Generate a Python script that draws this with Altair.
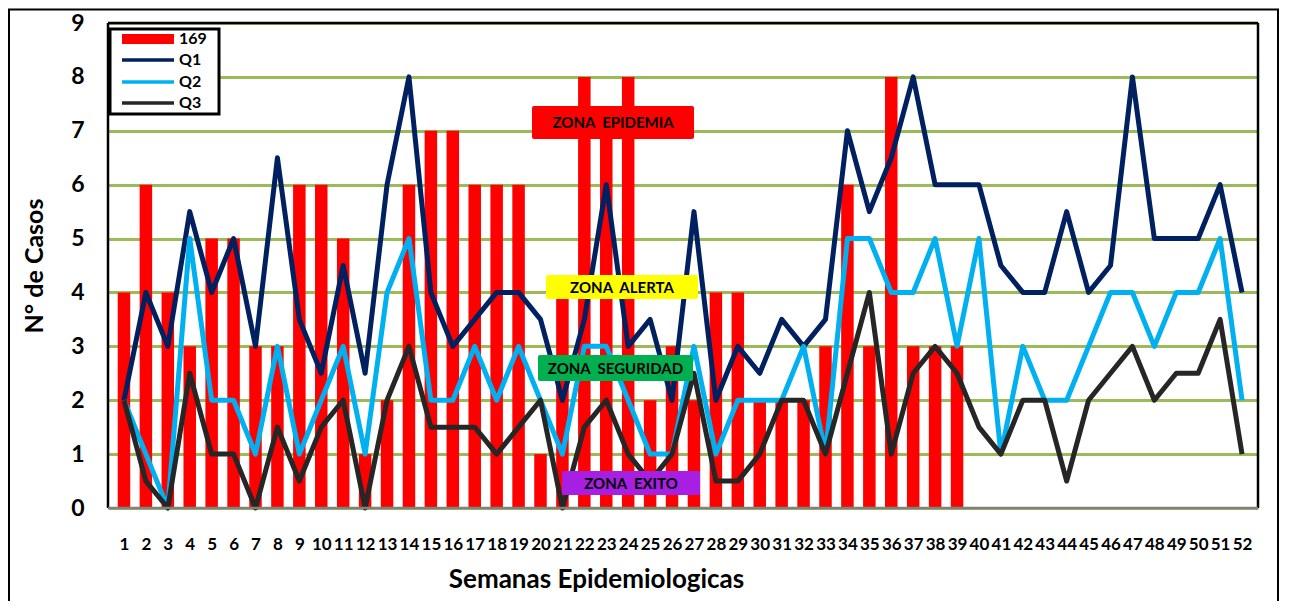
import altair as alt
import pandas as pd

# ---------------- data ----------------
weeks = list(range(1, 53))
casos_169 = [4, 6, 4, 3, 5, 5, 3, 3, 6, 6,
             5, 1, 2, 6, 7, 7, 6, 6, 6, 1,
             4, 8, 7, 8, 2, 3, 2, 4, 4, 2,
             2, 2, 3, 6, 3, 8, 3, 3, 3]
q1 = [2, 4, 3, 5.5, 4, 5, 3, 6.5, 3.5, 2.5,
      4.5, 2.5, 6, 8, 4, 3, 3.5, 4, 4, 3.5,
      2, 3.5, 6, 3, 3.5, 2, 5.5, 2, 3, 2.5,
      3.5, 3, 3.5, 7, 5.5, 6.5, 8, 6, 6, 6,
      4.5, 4, 4, 5.5, 4, 4.5, 8, 5, 5, 5,
      6, 4]
q2 = [2, 1, 0, 5, 2, 2, 1, 3, 1, 2,
      3, 1, 4, 5, 2, 2, 3, 2, 3, 2,
      1, 3, 3, 2, 1, 1, 3, 1, 2, 2,
      2, 3, 1, 5, 5, 4, 4, 5, 3, 5,
      1, 3, 2, 2, 3, 4, 4, 3, 4, 4,
      5, 2]
q3 = [2, 0.5, 0, 2.5, 1, 1, 0, 1.5, 0.5, 1.5,
      2, 0, 2, 3, 1.5, 1.5, 1.5, 1, 1.5, 2,
      0, 1.5, 2, 1, 0.5, 1, 2.5, 0.5, 0.5, 1,
      2, 2, 1, 2.5, 4, 1, 2.5, 3, 2.5, 1.5,
      1, 2, 2, 0.5, 2, 2.5, 3, 2, 2.5, 2.5,
      3.5, 1]
series_names = ["169", "Q1", "Q2", "Q3"]
series_colors = ["#ff0000", "#002060", "#00b0f0", "#262626"]
zone_labels = ["ZONA\u00a0\u00a0EPIDEMIA", "ZONA\u00a0\u00a0ALERTA",
               "ZONA\u00a0\u00a0SEGURIDAD", "ZONA\u00a0\u00a0EXITO"]
zone_colors = ["#ff0000", "#ffff00", "#00b050", "#a61fe3"]
y_ticks = list(range(0, 10))
x_title = "Semanas Epidemiologicas"
y_title = "N° de Casos"

# ---------------- chart ----------------
FONT = "Lato"
W, H = 1150, 485

bars_df = pd.DataFrame({"semana": weeks[:len(casos_169)], "casos": casos_169})
one = pd.DataFrame({"k": [0]})

x_axis = alt.Axis(values=weeks, title=x_title, format="d",
                  labelFont=FONT, labelFontSize=17, labelFontWeight="bold",
                  labelColor="black", labelPadding=28, labelOverlap=False,
                  labelFlush=False, labelBound=False, ticks=False,
                  domain=False, grid=False,
                  titleFont=FONT, titleFontSize=26, titleFontWeight="bold",
                  titleColor="black", titleX=488, titleY=71,
                  titleBaseline="middle", titleAlign="center")
y_axis = alt.Axis(values=y_ticks, title=y_title, format="d",
                  labelFont=FONT, labelFontSize=23, labelFontWeight="bold",
                  labelColor="black", labelPadding=24, ticks=False,
                  labelOverlap=False, domain=False, grid=True,
                  gridColor="#9bbb59", gridWidth=3,
                  titleFont=FONT, titleFontSize=25, titleFontWeight="bold",
                  titleColor="black", titleX=-74, titleY=242.5, titleAngle=270,
                  titleBaseline="middle", titleAlign="center")
x_scale = alt.Scale(domain=[0.5, 52.5], nice=False, zero=False)
y_scale = alt.Scale(domain=[0, 9], nice=False)


def xe():
    return alt.X("semana:Q", scale=x_scale, axis=x_axis)


def ye():
    return alt.Y("casos:Q", scale=y_scale, axis=y_axis)


bars = alt.Chart(bars_df).mark_bar(size=12.5, color=series_colors[0]).encode(
    x=xe(), y=ye())


def line_layer(vals, color):
    df = pd.DataFrame({"semana": weeks, "casos": vals})
    return alt.Chart(df).mark_line(color=color, strokeWidth=5,
                                   strokeJoin="round").encode(x=xe(), y=ye())


lines = [line_layer(v, c) for v, c in zip([q1, q2, q3], series_colors[1:])]


def rect_px(x, x2, y, y2, **kw):
    return alt.Chart(one).mark_rect(**kw).encode(
        x=alt.value(x), x2=alt.value(x2), y=alt.value(y), y2=alt.value(y2))


def rule_px(x, x2, y, y2, color, width):
    return alt.Chart(one).mark_rule(color=color, strokeWidth=width).encode(
        x=alt.value(x), x2=alt.value(x2), y=alt.value(y), y2=alt.value(y2))


def text_px(x, y, t, size, align="center"):
    return alt.Chart(one).mark_text(
        text=t, font=FONT, fontSize=size, fontWeight="bold", color="black",
        align=align, baseline="middle").encode(x=alt.value(x), y=alt.value(y))


# zone annotation boxes
zone_boxes = [(424, 586, 83, 116), (438, 590, 252, 276),
              (430, 585, 332, 358), (454, 592, 448, 472)]
zones = []
for (bx, bx2, by, by2), lab, col in zip(zone_boxes, zone_labels, zone_colors):
    zones.append(rect_px(bx, bx2, by, by2, color=col, cornerRadius=2))
    zones.append(text_px((bx + bx2) / 2, (by + by2) / 2 + 0.5, lab, 15))

# frame of plot area
frame = [
    rule_px(0, W, 0, 0, "black", 2.5),
    rule_px(W, W, 0, H, "black", 2.5),
    rule_px(0, 0, 0, H, "black", 2.5),
    rule_px(0, W, H, H, "#808080", 2.5),
]

# legend
legend = [rect_px(2, 111, 6, 91, fill="white", stroke="black", strokeWidth=3)]
rows_y = [16, 37, 59, 80]
legend.append(rect_px(14, 66, 11, 21, color=series_colors[0]))
for yy, col in zip(rows_y[1:], series_colors[1:]):
    legend.append(rule_px(14, 66, yy, yy, col, 3.5))
for yy, name in zip(rows_y, series_names):
    legend.append(text_px(71, yy, name, 16, align="left"))

# outer chart border
outer = rect_px(-99, 1170, -13.5, 700, fillOpacity=0, stroke="black",
                strokeWidth=2)

chart = alt.layer(bars, *lines, *zones, *frame, *legend, outer).properties(
    width=W, height=H,
    autosize=alt.AutoSizeParams(type="none"),
    padding={"left": 100, "top": 15, "right": 22, "bottom": 93},
    background="white",
).configure_view(stroke=None).configure_axisX(labelOverlap=False)

chart.save("out.html", embed_options={"renderer": "svg", "actions": False})
